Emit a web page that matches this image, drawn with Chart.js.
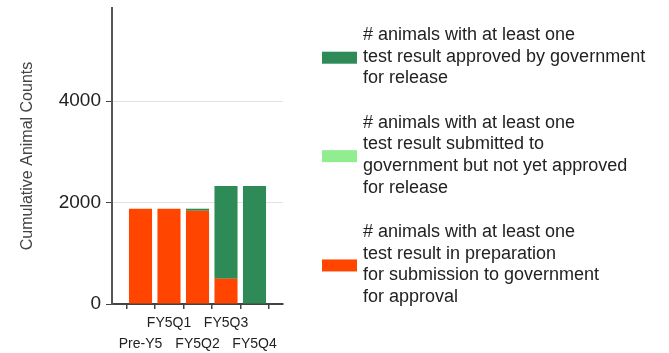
<!DOCTYPE html>
<html>
<head>
<meta charset="utf-8">
<script src="https://cdn.jsdelivr.net/npm/chart.js@4.4.0/dist/chart.umd.min.js"></script>
<style>
  html, body { margin: 0; padding: 0; background: #fff; }
  #wrap { position: relative; width: 669px; height: 353px; }
</style>
</head>
<body>
<div id="wrap"><canvas id="c" width="669" height="353"></canvas></div>
<script>
// Reporting periods
const categories = ['Pre-Y5', 'FY5Q1', 'FY5Q2', 'FY5Q3', 'FY5Q4'];

// Cumulative animal counts per status
const approved      = [0, 0, 40, 1830, 2330];
const submitted     = [0, 0, 0, 0, 0];
const inPreparation = [1880, 1880, 1840, 500, 0];

// Value axis
const yTicks = [0, 2000, 4000];
const yMax = 5840;

// Legend wording, one entry per line
const approvedText = ['# animals with at least one', 'test result approved by government', 'for release'];
const submittedText = ['# animals with at least one', 'test result submitted to', 'government but not yet approved', 'for release'];
const preparationText = ['# animals with at least one', 'test result in preparation', 'for submission to government', 'for approval'];

const COLORS = { approved: '#2E8B57', submitted: '#90EE90', preparation: '#FF4500' };
const FONT = '"Liberation Sans", Arial, sans-serif';

// Empty slots on both ends of the category axis
const pad = arr => [null, ...arr, null];

const datasets = [
  { label: preparationText.join(' '), lines: preparationText, data: pad(inPreparation), backgroundColor: COLORS.preparation, stack: 's' },
  { label: submittedText.join(' '), lines: submittedText, data: pad(submitted), backgroundColor: COLORS.submitted, stack: 's' },
  { label: approvedText.join(' '), lines: approvedText, data: pad(approved), backgroundColor: COLORS.approved, stack: 's' }
];

// Legend drawn at the right, top entry = top of the stack
const sideLegend = {
  id: 'sideLegend',
  afterDraw(chart) {
    const ctx = chart.ctx;
    const LH = 21.7, GAP = 22.5;
    const boxX = 322, boxW = 35, boxH = 12, textX = 363;
    ctx.save();
    ctx.font = '18px ' + FONT;
    ctx.textBaseline = 'middle';
    ctx.textAlign = 'left';
    let y = 35;
    const order = chart.data.datasets.map((d, i) => i).reverse();
    order.forEach(i => {
      const ds = chart.data.datasets[i];
      const lines = ds.lines;
      const last = y + (lines.length - 1) * LH;
      const mid = (y + last) / 2;
      ctx.fillStyle = ds.backgroundColor;
      ctx.fillRect(boxX, mid - boxH / 2 + 1, boxW, boxH);
      ctx.fillStyle = '#222';
      lines.forEach((ln, k) => ctx.fillText(ln, textX, y + k * LH));
      y = last + LH + GAP;
    });
    ctx.restore();
  }
};

new Chart(document.getElementById('c'), {
  type: 'bar',
  data: { labels: pad(categories).map(c => c || ''), datasets },
  options: {
    responsive: false,
    animation: false,
    devicePixelRatio: 1,
    layout: { padding: { left: 0, top: 8, right: 386, bottom: 0 } },
    plugins: { legend: { display: false }, tooltip: { enabled: false } },
    datasets: { bar: { categoryPercentage: 0.81, barPercentage: 1 } },
    scales: {
      x: {
        stacked: true,
        offset: false,
        afterFit: s => { s.height = 49; s.paddingLeft = 0; s.paddingRight = 0; },
        border: { color: '#444', width: 2 },
        grid: { drawOnChartArea: false, drawTicks: true, tickLength: 5, tickColor: '#444', lineWidth: 1.5 },
        ticks: {
          autoSkip: false, maxRotation: 0, minRotation: 0,
          color: '#222', padding: 4,
          font: { family: FONT, size: 14, lineHeight: 1.5 },
          callback: (v, i) => {
            const k = i - 1;
            if (k < 0 || k >= categories.length) return '';
            return k % 2 === 0 ? ['', categories[k]] : categories[k];
          }
        }
      },
      y: {
        stacked: true,
        min: 0, max: yMax,
        afterFit: s => { s.width = 112; s.paddingTop = 0; s.paddingBottom = 0; },
        afterBuildTicks: s => { s.ticks = yTicks.map(v => ({ value: v })); },
        border: { color: '#555', width: 2 },
        grid: {
          color: c => (c.tick && c.tick.value === 0) ? 'rgba(0,0,0,0)' : '#e2e2e2',
          tickColor: '#444', tickLength: 6, lineWidth: 1
        },
        ticks: {
          color: '#222', padding: 5, font: { family: FONT, size: 19 },
          callback: v => String(v)
        },
        title: {
          display: true, text: 'Cumulative Animal Counts', color: '#444',
          font: { family: FONT, size: 16 }, padding: { top: 18, bottom: 0 }
        }
      }
    }
  },
  plugins: [sideLegend]
});
</script>
</body>
</html>
